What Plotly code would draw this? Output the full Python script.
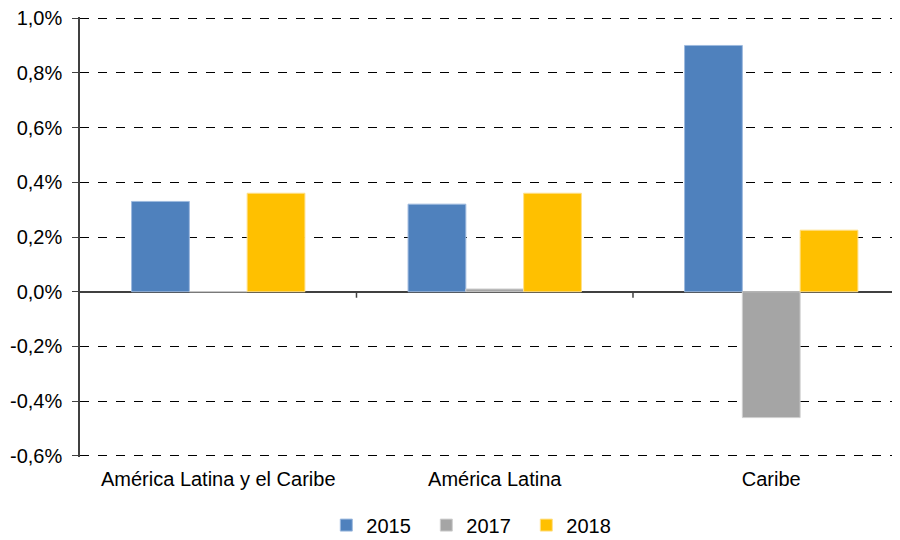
import plotly.graph_objects as go

categories = ["América Latina y el Caribe", "América Latina", "Caribe"]
series_names = ["2015", "2017", "2018"]
values_2015 = [0.0033, 0.0032, 0.0090]
values_2017 = [0.0000, 0.0001, -0.0046]
values_2018 = [0.0036, 0.0036, 0.00225]
tick_values = [-0.006, -0.004, -0.002, 0.0, 0.002, 0.004, 0.006, 0.008, 0.010]
tick_labels = ["-0,6%", "-0,4%", "-0,2%", "0,0%", "0,2%", "0,4%", "0,6%", "0,8%", "1,0%"]
colors = ["#4F81BD", "#A5A5A5", "#FFC000"]
edge_colors = ["#9DB9DE", "#CFCFCF", "#FFE08A"]

fig = go.Figure()
for name, vals, c, ec in zip(series_names, [values_2015, values_2017, values_2018], colors, edge_colors):
    fig.add_trace(go.Bar(x=categories, y=vals, name=name,
                         marker=dict(color=c, line=dict(color=ec, width=1))))

for b in [0.5, 1.5]:
    fig.add_shape(type="line", xref="x", yref="y", x0=b, x1=b,
                  ysizemode="pixel", yanchor=0, y0=0, y1=-6,
                  line=dict(color="#404040", width=1.5))

fig.update_layout(
    width=892, height=532,
    margin=dict(l=72, r=0, t=9, b=83, autoexpand=False),
    paper_bgcolor="white", plot_bgcolor="white",
    barmode="group", bargap=0.373, bargroupgap=0,
    font=dict(family="Liberation Sans, Arial, sans-serif", size=20, color="#000000"),
    showlegend=True,
    legend=dict(orientation="h", xref="container", x=0.525, xanchor="center",
                yref="container", y=0.028, yanchor="middle",
                font=dict(size=20), itemwidth=30, traceorder="normal",
                entrywidth=55, entrywidthmode="pixels"),
    xaxis=dict(range=[-0.5, 2.4657], showline=False, ticks="", showgrid=False,
               zeroline=False, automargin=False, ticklabelstandoff=8,
               tickfont=dict(size=20)),
    yaxis=dict(range=[-0.00604, 0.01004], tickvals=tick_values, ticktext=tick_labels,
               showgrid=True, gridcolor="#000000", griddash="dash", gridwidth=1,
               showline=True, linecolor="#404040", linewidth=1.5,
               ticks="outside", ticklen=6, tickcolor="#404040",
               ticklabelstandoff=6, ticklabeloverflow="allow",
               zeroline=True, zerolinecolor="#404040", zerolinewidth=1.5,
               automargin=False, tickfont=dict(size=20)),
)

fig.write_html("out.html")
